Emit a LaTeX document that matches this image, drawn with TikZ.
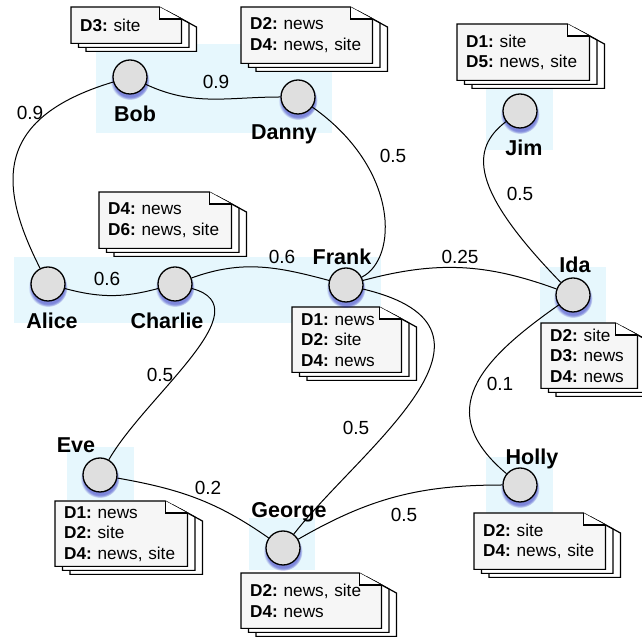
\documentclass[tikz,border=0pt]{standalone}
\usepackage{fontspec}
\setmainfont{Liberation Sans}
\usetikzlibrary{shadows, calc}
\pgfdeclarelayer{hilite}
\pgfdeclarelayer{paper}
\pgfsetlayers{hilite,paper,main}
\frenchspacing

% three stacked pages with a dog-ear behind a document node
\newcommand\docpages[1]{%
  \begin{pgfonlayer}{paper}
    \foreach \k in {2,1}
      \draw[page] ($(#1.north west)+(7.5*\k,-4*\k)$) -- ($(#1.north east)+(7.5*\k-22,-4*\k)$)
        -- ($(#1.north east)+(7.5*\k,-4*\k-12)$) -- ($(#1.south east)+(7.5*\k,-4*\k)$)
        -- ($(#1.south west)+(7.5*\k,-4*\k)$) -- cycle;
    \draw[page, fill=gray!7] (#1.north west) -- ($(#1.north east)+(-22,0)$)
      -- ($(#1.north east)+(0,-12)$) -- (#1.south east) -- (#1.south west) -- cycle;
    \draw[page] ($(#1.north east)+(-22,0)$) -- ($(#1.north east)+(-22,-12)$) -- ($(#1.north east)+(0,-12)$);
  \end{pgfonlayer}}

\begin{document}
\begin{tikzpicture}[x=1pt, y=1pt,
    person/.style={circle, draw, line width=1.3pt, fill=gray!25, minimum size=34pt, inner sep=0pt,
      circular drop shadow={shadow xshift=0pt, shadow yshift=-3pt, shadow scale=1.15, fill=blue!70!black, opacity=.45}},
    personname/.style={font=\fontsize{21.5}{25}\selectfont\bfseries},
    linkweight/.style={font=\fontsize{19}{22}\selectfont},
    doc/.style={anchor=north west, inner xsep=9pt, inner ysep=0pt, align=left, font=\fontsize{17.2}{20.5}\selectfont},
    page/.style={line width=1.2pt, fill=white},
    link/.style={line width=1pt},
    hilite/.style={fill=cyan!10}
  ]
  \useasboundingbox (0,0) rectangle (642,639);

  % people
  \node[person] (bob)     at (130,562) {};
  \node[person] (danny)   at (298,542) {};
  \node[person] (jim)     at (520,528) {};
  \node[person] (alice)   at (48,355)  {};
  \node[person] (charlie) at (175,355) {};
  \node[person] (frank)   at (346,354) {};
  \node[person] (ida)     at (573,344) {};
  \node[person] (eve)     at (100,164) {};
  \node[person] (george)  at (283,91)  {};
  \node[person] (holly)   at (520,154) {};

  % names
  \node[personname] (bobName)     at (135,525) {Bob};
  \node[personname] (dannyName)   at (284,505) {Danny};
  \node[personname] (jimName)     at (524,491) {Jim};
  \node[personname] (aliceName)   at (52,318)  {Alice};
  \node[personname] (charlieName) at (167,318) {Charlie};
  \node[personname] (frankName)   at (342,382) {Frank};
  \node[personname] (idaName)     at (575,374) {Ida};
  \node[personname] (eveName)     at (76,194)  {Eve};
  \node[personname] (georgeName)  at (289,127) {George};
  \node[personname] (hollyName)   at (532,180) {Holly};

  % documents
  \node[doc, text width=92pt,  minimum height=36pt] (docBob)     at (71,632)  {\textbf{D3:} site};
  \node[doc, text width=113pt, minimum height=56pt] (docDanny)   at (241,632) {\textbf{D2:} news\\\textbf{D4:} news, site};
  \node[doc, text width=114pt, minimum height=56pt] (docJim)     at (457,615) {\textbf{D1:} site\\\textbf{D5:} news, site};
  \node[doc, text width=114pt, minimum height=56pt] (docCharlie) at (99,447)  {\textbf{D4:} news\\\textbf{D6:} news, site};
  \node[doc, text width=91pt,  minimum height=65pt] (docFrank)   at (292,332) {\textbf{D1:} news\\\textbf{D2:} site\\\textbf{D4:} news};
  \node[doc, text width=78pt,  minimum height=65pt] (docIda)     at (541,316) {\textbf{D2:} site\\\textbf{D3:} news\\\textbf{D4:} news};
  \node[doc, text width=114pt, minimum height=65pt] (docEve)     at (55,138)  {\textbf{D1:} news\\\textbf{D2:} site\\\textbf{D4:} news, site};
  \node[doc, text width=122pt, minimum height=55pt] (docGeorge)  at (241,66)  {\textbf{D2:} news, site\\\textbf{D4:} news};
  \node[doc, text width=113pt, minimum height=56pt] (docHolly)   at (474,126) {\textbf{D2:} site\\\textbf{D4:} news, site};
  \foreach \d in {docBob,docDanny,docJim,docCharlie,docFrank,docIda,docEve,docGeorge,docHolly}
    \docpages{\d};

  % links
  \draw[link] (alice) .. controls (0,450) and (-10,520) .. (bob);
  \draw[link] (bob) to[out=-25, in=180] (danny);
  \draw[link] (danny) .. controls (400,470) and (398,380) .. (frank);
  \draw[link] (jim) .. controls (470,490) and (470,450) .. (ida);
  \draw[link] (alice) to[out=-15, in=195] (charlie);
  \draw[link] (charlie) to[out=20, in=165] (frank);
  \draw[link] (frank) to[out=15, in=160] (ida);
  \draw[link] (charlie) to[out=-15, in=60] (eve);
  \draw[link] (frank) .. controls (530,310) and (360,190) .. (george);
  \draw[link] (ida) to[out=215, in=140, looseness=1.4] (holly);
  \draw[link] (eve) to[out=-10, in=145] (george);
  \draw[link] (george) to[out=30, in=180] (holly);

  % weights
  \node[linkweight] (wAliceBob)     at (30,526)  {0.9};
  \node[linkweight] (wBobDanny)     at (216,557) {0.9};
  \node[linkweight] (wDannyFrank)   at (393,483) {0.5};
  \node[linkweight] (wJimIda)       at (520,445) {0.5};
  \node[linkweight] (wAliceCharlie) at (107,360) {0.6};
  \node[linkweight] (wCharlieFrank) at (282,382) {0.6};
  \node[linkweight] (wFrankIda)     at (460,382) {0.25};
  \node[linkweight] (wCharlieEve)   at (160,264) {0.5};
  \node[linkweight] (wFrankGeorge)  at (356,211) {0.5};
  \node[linkweight] (wIdaHolly)     at (500,255) {0.1};
  \node[linkweight] (wEveGeorge)    at (208,151) {0.2};
  \node[linkweight] (wGeorgeHolly)  at (404,124) {0.5};

  % highlighted groups
  \begin{pgfonlayer}{hilite}
    \fill[hilite] (96,506) rectangle (332,595);
    \fill[hilite] (486,489) rectangle (553,551);
    \fill[hilite] (14,316) rectangle (381,382);
    \fill[hilite] (540,309) rectangle (606,372);
    \fill[hilite] (67,139) rectangle (134,192);
    \fill[hilite] (249,69) rectangle (315,121);
    \fill[hilite] (486,126) rectangle (553,182);
  \end{pgfonlayer}
\end{tikzpicture}
\end{document}
